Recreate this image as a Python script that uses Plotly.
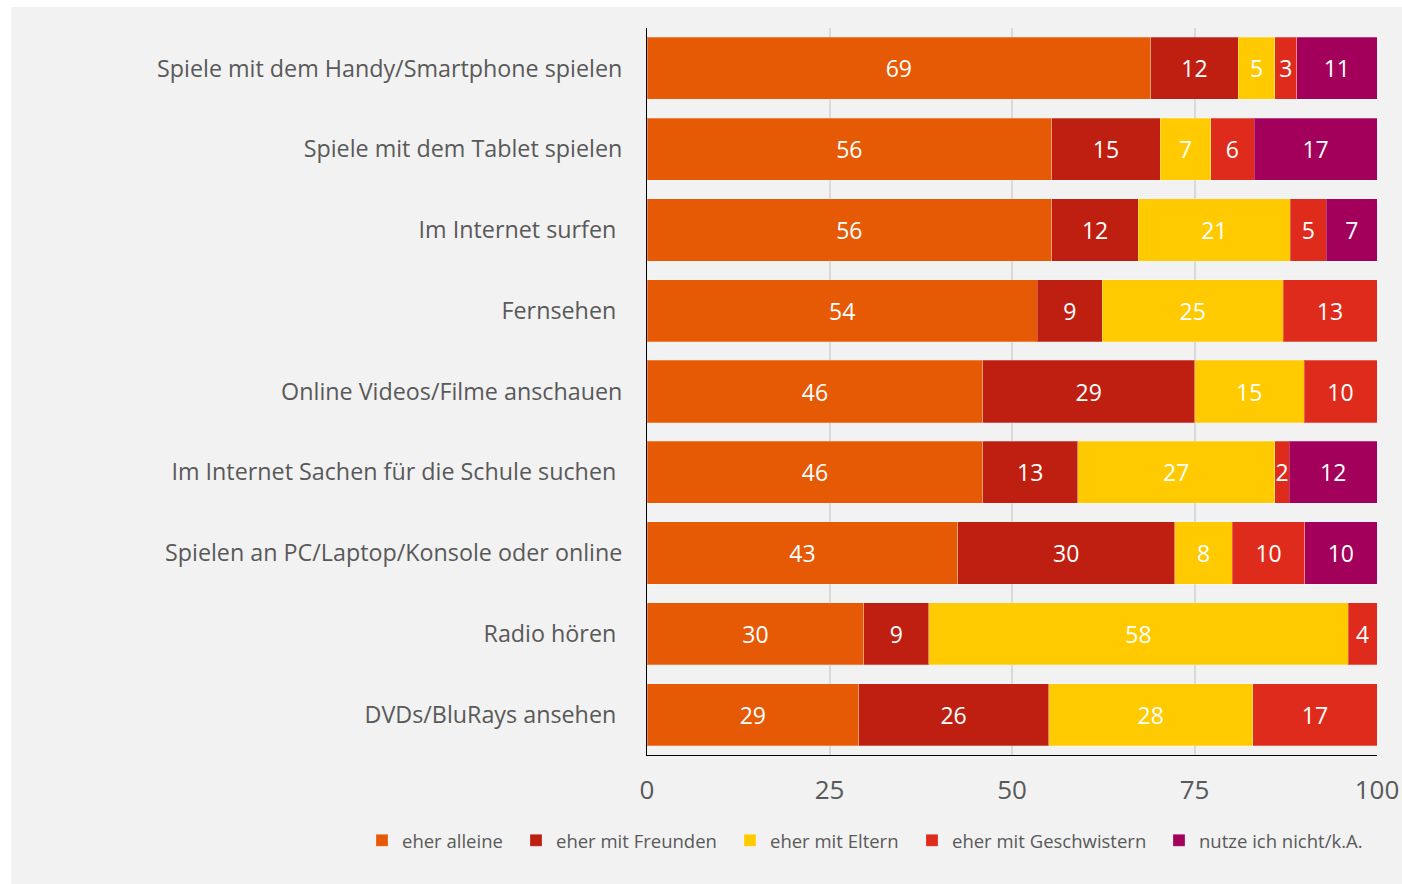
import plotly.graph_objects as go

categories = [
    "Spiele mit dem Handy/Smartphone spielen",
    "Spiele mit dem Tablet spielen",
    "Im Internet surfen\u00a0",
    "Fernsehen\u00a0",
    "Online Videos/Filme anschauen",
    "Im Internet Sachen für die Schule suchen\u00a0",
    "Spielen an PC/Laptop/Konsole oder online",
    "Radio hören\u00a0",
    "DVDs/BluRays ansehen\u00a0",
]

series_names = ["eher alleine", "eher mit Freunden", "eher mit Eltern",
                "eher mit Geschwistern", "nutze ich nicht/k.A."]

eher_alleine = [69, 56, 56, 54, 46, 46, 43, 30, 29]
eher_mit_freunden = [12, 15, 12, 9, 29, 13, 30, 9, 26]
eher_mit_eltern = [5, 7, 21, 25, 15, 27, 8, 58, 28]
eher_mit_geschwistern = [3, 6, 5, 13, 10, 2, 10, 4, 17]
nutze_nicht = [11, 17, 7, 0, 0, 12, 10, 0, 0]

series_values = [eher_alleine, eher_mit_freunden, eher_mit_eltern,
                 eher_mit_geschwistern, nutze_nicht]
colors = ["#E65A05", "#BF1F11", "#FFCA00", "#DF2B1B", "#A3005B"]

x_ticks = [0, 25, 50, 75, 100]

FONT = "Open Sans"
GREY = "#595959"

W, H = 1402, 884
L, T = 647, 28
PW, PH = 730, 727

# left edge (px) of each legend entry, one legend per series
legend_left_px = [362, 516, 730, 912, 1159]

fig = go.Figure()
for i, (name, vals, col) in enumerate(zip(series_names, series_values, colors)):
    fig.add_trace(go.Bar(
        y=categories, x=vals, name=name, orientation="h",
        legend=f"legend{i + 2}", showlegend=True,
        marker=dict(color=col, line=dict(color="rgba(255,255,255,0.25)", width=1)),
        text=[str(v) if v else "" for v in vals],
        texttemplate="%{text}", textposition="inside", insidetextanchor="middle",
        textfont=dict(color="white", size=23, family=FONT),
        constraintext="none",
        hoverinfo="name+x",
    ))

legend_common = dict(orientation="h", xanchor="left", y=-0.118, yanchor="middle",
                     font=dict(size=18.5, color=GREY, family=FONT),
                     bgcolor="rgba(0,0,0,0)", itemwidth=30)
legends = {}
for i, px in enumerate(legend_left_px):
    legends[f"legend{i + 2}"] = dict(legend_common, x=(px - L) / PW)

fig.update_layout(
    barmode="stack", barnorm="percent", bargap=0.23,
    width=W, height=H,
    margin=dict(l=L, r=W - L - PW, t=T, b=H - T - PH, autoexpand=False),
    paper_bgcolor="#f2f2f2", plot_bgcolor="#f2f2f2",
    font=dict(family=FONT, color=GREY),
    xaxis=dict(range=[0, 100], tickvals=x_ticks, ticktext=[str(t) for t in x_ticks],
               showgrid=True, gridcolor="#d9d9d9", gridwidth=2,
               showline=True, linecolor="black", linewidth=1, zeroline=False,
               tickfont=dict(size=26, color=GREY, family=FONT),
               ticks="outside", ticklen=12, tickcolor="rgba(0,0,0,0)", fixedrange=True),
    yaxis=dict(categoryorder="array", categoryarray=categories, autorange="reversed",
               showline=True, linecolor="black", linewidth=1, showgrid=False,
               tickfont=dict(size=23.3, color=GREY, family=FONT),
               ticks="outside", ticklen=19, tickcolor="rgba(0,0,0,0)", fixedrange=True),
    shapes=[
        dict(type="rect", xref="paper", yref="paper", x0=-1, x1=(11 - L) / PW,
             y0=-0.3, y1=1.2, fillcolor="white", line=dict(width=0)),
        dict(type="rect", xref="paper", yref="paper", x0=-1, x1=1.1,
             y0=(T + PH - 7) / PH, y1=1.2, fillcolor="white", line=dict(width=0)),
    ],
    **legends,
)

fig.write_html(
    "out.html",
    config={"displayModeBar": False},
    post_script="document.body.style.margin='0';document.body.style.overflow='hidden';",
)
